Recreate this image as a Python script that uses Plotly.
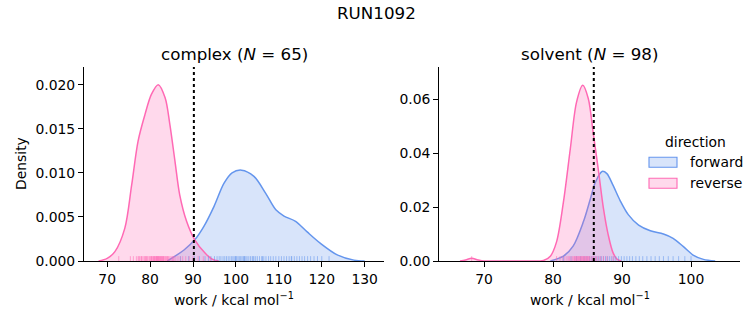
import plotly.graph_objects as go

W, H = 753, 325

# ---------------- data ----------------
# KDE curves (work in kcal/mol, density)
cx_rev_x = [68.0, 70.0, 71.8, 74.1, 75.7, 77.2, 78.8, 80.3, 81.9, 83.5, 84.6, 85.8, 86.9, 88.5, 90.4, 92.8, 94.5, 96.0]
cx_rev_y = [0.0, 0.0003, 0.00106, 0.0037, 0.0086, 0.0136, 0.0166, 0.0189, 0.0200, 0.0185, 0.0155, 0.0113, 0.0075, 0.0045, 0.0024, 0.0009, 0.0002, 0.0]
cx_fwd_x = [84.0, 87.9, 90.4, 92.5, 94.9, 97.2, 99.1, 101.3, 104.2, 106.9, 109.3, 111.2, 113.9, 116.6, 119.7, 123.6, 127.5, 130.0]
cx_fwd_y = [0.0, 0.00125, 0.0024, 0.0039, 0.0062, 0.0088, 0.0100, 0.0103, 0.0096, 0.0077, 0.0058, 0.0051, 0.0045, 0.0033, 0.0020, 0.0007, 0.0001, 0.0]

sv_rev_x = [66.5, 67.3, 68.2, 69.1, 70.0, 72.0, 76.0, 78.6, 79.6, 80.5, 81.5, 82.5, 83.4, 84.3, 85.1, 85.8, 86.6, 87.3, 88.0, 88.7, 89.3, 89.9]
sv_rev_y = [0.0, 0.0004, 0.0010, 0.0004, 0.0, 0.0, 0.0, 0.0002, 0.0018, 0.0071, 0.0219, 0.0417, 0.0589, 0.0651, 0.0602, 0.0478, 0.0330, 0.0195, 0.0096, 0.0030, 0.0006, 0.0]
sv_fwd_x = [79.6, 81.5, 82.9, 84.4, 85.4, 86.1, 87.1, 87.8, 88.7, 89.7, 90.9, 92.4, 94.1, 96.0, 97.4, 98.9, 100.3, 101.8, 103.5]
sv_fwd_y = [0.0, 0.0018, 0.0055, 0.0146, 0.0230, 0.0290, 0.0332, 0.0324, 0.0280, 0.0225, 0.0172, 0.0133, 0.0112, 0.0100, 0.0084, 0.0053, 0.0022, 0.0006, 0.0]

# rug samples (work values)
cx_rev_rug = [72.7, 75.4, 76.1, 76.8, 77.2, 77.4, 77.6, 77.9, 78.0, 78.3, 78.6, 78.8, 79.0, 79.1, 79.3, 79.5,
              79.8, 80.0, 80.2, 80.3, 80.4, 80.6, 80.8, 80.9, 81.0, 81.1, 81.3, 81.4, 81.5, 81.6, 81.7, 81.8,
              81.9, 82.0, 82.1, 82.2, 82.4, 82.5, 82.6, 82.7, 82.9, 83.0, 83.1, 83.2, 83.4, 83.6, 83.8, 84.0,
              84.1, 84.3, 84.6, 84.9, 85.2, 85.4, 85.6, 86.0, 86.5, 87.0, 87.6, 88.3, 89.1, 90.0, 91.2, 92.4, 94.0]
cx_fwd_rug = [87.1, 89.0, 90.3, 91.5, 92.8, 93.6, 94.2, 95.0, 95.6, 96.1, 96.5, 97.0, 97.4, 97.8, 98.2, 98.6,
              99.0, 99.3, 99.6, 99.9, 100.0, 100.2, 100.5, 100.8, 101.1, 101.4, 101.7, 101.9, 102.0, 102.3,
              102.6, 103.0, 103.4, 103.8, 104.0, 104.2, 104.6, 105.0, 105.5, 106.0, 106.2, 106.5, 107.0, 107.6,
              108.1, 108.7, 109.3, 110.0, 110.6, 111.2, 111.8, 112.4, 112.9, 113.0, 113.6, 114.2, 114.8, 115.4,
              116.0, 116.7, 117.4, 118.2, 119.0, 120.0, 121.7]
sv_rev_rug = [68.2, 80.5, 81.0, 81.4, 81.7, 82.0, 82.2, 82.4, 82.6, 82.8, 83.0, 83.1, 83.2, 83.3, 83.4, 83.5,
              83.6, 83.7, 83.8, 83.9, 84.0, 84.1, 84.2, 84.3, 84.4, 84.5, 84.6, 84.7, 84.8, 84.9, 85.0, 85.1,
              85.2, 85.3, 85.5, 85.7, 85.9, 86.1, 86.3, 86.6, 86.9, 87.3, 87.8, 88.7]
sv_fwd_rug = [81.5, 82.6, 83.4, 84.0, 84.5, 84.9, 85.3, 85.6, 85.9, 86.2, 86.5, 86.8, 87.0, 87.3, 87.6, 87.9,
              88.2, 88.5, 88.8, 89.1, 89.5, 89.9, 90.3, 90.7, 91.1, 91.5, 92.0, 92.5, 93.0, 93.6, 94.2, 94.8,
              95.4, 96.0, 96.7, 97.4, 98.2, 99.1, 100.0]

# reference lines (dotted)
cx_vline = 90.2
sv_vline = 85.9

panel_titles = ["complex (<i>N</i> = 65)", "solvent (<i>N</i> = 98)"]
suptitle = "RUN1092"
xlabel = "work / kcal mol<sup>−1</sup>"
ylabel = "Density"
legend_title = "direction"
legend_labels = ["forward", "reverse"]

cx_yticks = [0.000, 0.005, 0.010, 0.015, 0.020]
sv_yticks = [0.00, 0.02, 0.04, 0.06]
cx_xticks = [70, 80, 90, 100, 110, 120, 130]
sv_xticks = [70, 80, 90, 100]

# ---------------- styling ----------------
BLUE = "#6495ED"
PINK = "#FF69B4"
BLUE_FILL = "rgba(100,149,237,0.25)"
PINK_FILL = "rgba(255,105,180,0.25)"
BLUE_RUG = "rgba(100,149,237,0.55)"
PINK_RUG = "rgba(255,105,180,0.55)"
FONT = "DejaVu Sans"
TICK = 13.9
TITLE = 16.7

def px_x(p):
    return p / W

def px_y(p):
    return 1 - p / H

dom1 = [px_x(84), px_x(384)]
dom2 = [px_x(439.3), px_x(740)]
ydom = [px_y(261), px_y(67)]

cx_xr = [64.6, 134.5]
cx_yr = [0, 0.0220]
sv_xr = [63.5, 107.1]
sv_yr = [0, 0.0719]

fig = go.Figure()

def curve(x, y, line, fill, xa, ya):
    fig.add_trace(go.Scatter(x=x, y=y, mode="lines", xaxis=xa, yaxis=ya,
                             line=dict(color=line, width=1.5, shape="spline", smoothing=0.9),
                             fill="tozeroy", fillcolor=fill, showlegend=False, hoverinfo="skip"))

def rug(vals, color, yr, xa, ya):
    h = 0.025 * (yr[1] - yr[0])
    xs, ys = [], []
    for v in vals:
        xs += [v, v, None]
        ys += [yr[0], yr[0] + h, None]
    fig.add_trace(go.Scatter(x=xs, y=ys, mode="lines", xaxis=xa, yaxis=ya,
                             line=dict(color=color, width=1), showlegend=False, hoverinfo="skip"))

curve(cx_fwd_x, cx_fwd_y, BLUE, BLUE_FILL, "x", "y")
curve(cx_rev_x, cx_rev_y, PINK, PINK_FILL, "x", "y")
rug(cx_fwd_rug, BLUE_RUG, cx_yr, "x", "y")
rug(cx_rev_rug, PINK_RUG, cx_yr, "x", "y")

curve(sv_fwd_x, sv_fwd_y, BLUE, BLUE_FILL, "x2", "y2")
curve(sv_rev_x, sv_rev_y, PINK, PINK_FILL, "x2", "y2")
rug(sv_fwd_rug, BLUE_RUG, sv_yr, "x2", "y2")
rug(sv_rev_rug, PINK_RUG, sv_yr, "x2", "y2")

axis_common = dict(showline=True, linecolor="black", linewidth=1.1, ticks="outside",
                   ticklen=5, tickwidth=1.1, tickcolor="black", showgrid=False, zeroline=False,
                   tickfont=dict(family=FONT, size=TICK, color="black"), automargin=False,
                   mirror=False)

fig.update_layout(
    width=W, height=H, margin=dict(l=0, r=0, t=0, b=0),
    paper_bgcolor="white", plot_bgcolor="white", showlegend=False,
    xaxis=dict(domain=dom1, range=cx_xr, tickvals=cx_xticks, anchor="y", **axis_common),
    yaxis=dict(domain=ydom, range=cx_yr, tickvals=cx_yticks, tickformat=".3f", anchor="x", **axis_common),
    xaxis2=dict(domain=dom2, range=sv_xr, tickvals=sv_xticks, anchor="y2", **axis_common),
    yaxis2=dict(domain=ydom, range=sv_yr, tickvals=sv_yticks, tickformat=".2f", anchor="x2", **axis_common),
)

# dotted reference lines
for xv, xr_, yr_ in [(cx_vline, "x", "y domain"), (sv_vline, "x2", "y2 domain")]:
    fig.add_shape(type="line", xref=xr_, yref=yr_, x0=xv, x1=xv, y0=0, y1=1,
                  line=dict(color="black", width=2, dash="dot"), layer="above")

ann = []
def text(t, x, y, size, **kw):
    ann.append(dict(text=t, x=px_x(x), y=px_y(y), xref="paper", yref="paper", showarrow=False,
                    font=dict(family=FONT, size=size, color="black"), **kw))

text(suptitle, 376.5, 13, TITLE, xanchor="center", yanchor="middle")
text(panel_titles[0], 234, 54, TITLE, xanchor="center", yanchor="middle")
text(panel_titles[1], 589.6, 54, TITLE, xanchor="center", yanchor="middle")
text(xlabel, 234, 299, TICK, xanchor="center", yanchor="middle")
text(xlabel, 589.6, 299, TICK, xanchor="center", yanchor="middle")
text(ylabel, 21, 164, TICK, xanchor="center", yanchor="middle", textangle=-90)

# legend (manual)
text(legend_title, 695, 142, TICK, xanchor="center", yanchor="middle")
text(legend_labels[0], 688, 162.3, TICK, xanchor="left", yanchor="middle")
text(legend_labels[1], 688, 182.7, TICK, xanchor="left", yanchor="middle")
fig.update_layout(annotations=ann)
for (y0, y1, fc, lc) in [(157.3, 167.3, BLUE_FILL, BLUE), (178.3, 188.3, PINK_FILL, PINK)]:
    fig.add_shape(type="rect", xref="paper", yref="paper", x0=px_x(649), x1=px_x(677),
                  y0=px_y(y1), y1=px_y(y0), fillcolor=fc, line=dict(color=lc, width=1.1))

fig.write_html("out.html")
